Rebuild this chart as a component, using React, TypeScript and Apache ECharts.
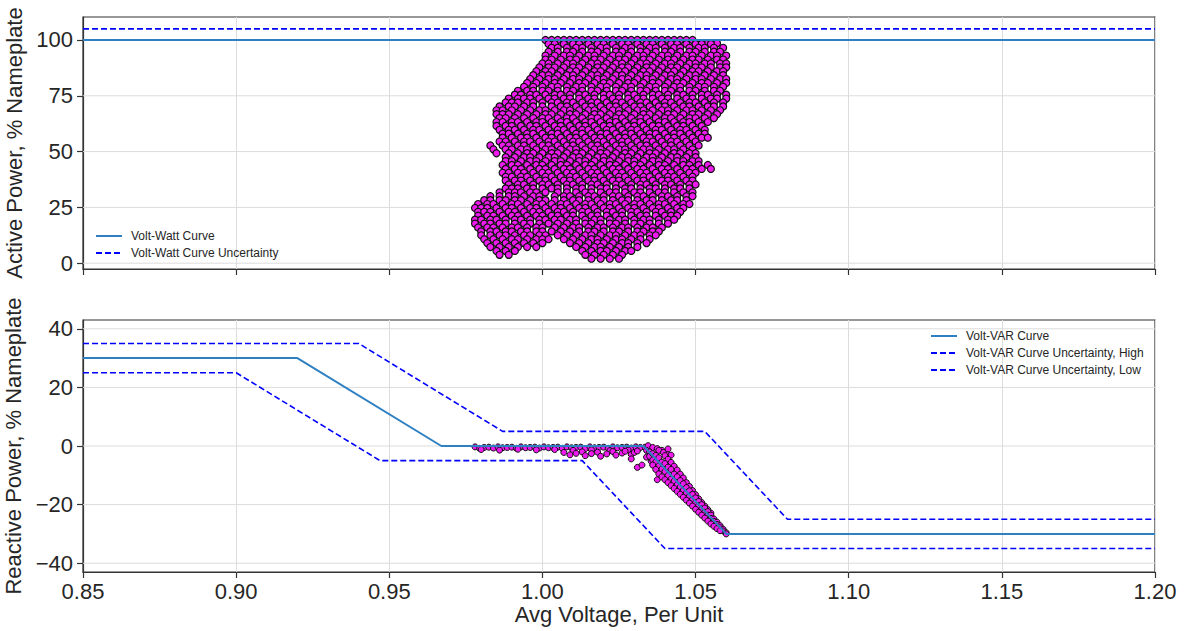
import React, { useEffect, useRef } from "react";
import * as echarts from "echarts";

// Volt-Watt setpoints (per unit voltage, % nameplate active power)
const voltWattV = [0.85, 1.2];
const voltWattP = [100, 100];
const voltWattUncP = [105, 105];

// Volt-VAR curve and its uncertainty band (per unit voltage, % nameplate reactive power)
const voltVarV = [0.85, 0.92, 0.967, 1.033, 1.06, 1.2];
const voltVarQ = [30, 30, 0, 0, -30, -30];
const voltVarHighV = [0.85, 0.94, 0.987, 1.053, 1.08, 1.2];
const voltVarHighQ = [35, 35, 5, 5, -25, -25];
const voltVarLowV = [0.85, 0.9, 0.947, 1.013, 1.04, 1.2];
const voltVarLowQ = [25, 25, -5, -5, -35, -35];

const voltRange = [0.85, 1.2];
const activeTicks = [0, 25, 50, 75, 100];
const reactiveTicks = [-40, -20, 0, 20, 40];

// Measured active power: each row is [% nameplate, voltages in milli-per-unit]
const activeRows: [number, string][] = [
  [100, "1001 1003 1005 1007 1009 1011 1013 1015 1017 1019 1021 1023 1025 1027 1029 1031 1033 1035 1037 1039 1041 1043 1045 1047 1049"],
  [98.5, "1051 1054 1057"],
  [98.25, "1002 1004 1007 1010 1012 1015 1018 1020 1023 1026 1028 1031 1034 1036 1039 1042 1044 1047 1050 1052 1055"],
  [96.5, "1003 1005 1008 1011 1013 1016 1019 1021 1024 1027 1029 1032 1035 1037 1040 1043 1045 1048 1051 1053 1056 1059"],
  [94.75, "1002 1005 1008 1010 1013 1016 1018 1021 1024 1026 1029 1032 1034 1037 1040 1042 1045 1048 1050 1053 1056 1058"],
  [93, "1001 1004 1007 1009 1012 1015 1017 1020 1023 1025 1028 1031 1033 1036 1039 1041 1044 1047 1049 1052 1055 1057 1060"],
  [91.25, "1001 1003 1006 1009 1011 1014 1017 1019 1022 1025 1027 1030 1033 1035 1038 1041 1043 1046 1049 1051 1054 1057 1059"],
  [89.5, "1000 1002 1005 1008 1010 1013 1016 1018 1021 1024 1026 1029 1032 1034 1037 1040 1042 1045 1048 1050 1053 1055 1058 1060"],
  [87.75, "999 1002 1004 1007 1010 1012 1015 1018 1020 1023 1026 1028 1031 1034 1036 1039 1042 1044 1047 1050 1052 1055 1058 1060"],
  [86, "998 1001 1003 1006 1009 1011 1014 1017 1019 1022 1025 1027 1030 1033 1035 1038 1041 1043 1046 1049 1051 1054 1057 1059"],
  [84.25, "997 1000 1002 1005 1008 1010 1013 1016 1018 1021 1024 1026 1029 1032 1034 1037 1040 1042 1045 1048 1050 1053 1056 1059"],
  [82.5, "996 999 1002 1004 1007 1010 1012 1015 1018 1020 1023 1026 1028 1031 1034 1036 1039 1042 1044 1047 1050 1052 1055 1058 1060"],
  [80.75, "995 998 1001 1004 1006 1009 1012 1014 1017 1020 1022 1025 1028 1030 1033 1036 1038 1041 1044 1046 1049 1052 1054 1057 1060"],
  [79, "994 997 1000 1003 1005 1008 1011 1013 1016 1019 1021 1024 1027 1029 1032 1035 1037 1040 1043 1045 1048 1051 1053 1056 1059"],
  [77.25, "992 995 997 1000 1002 1005 1008 1010 1013 1016 1018 1021 1024 1026 1029 1032 1034 1037 1040 1042 1045 1048 1050 1053 1056 1058"],
  [75.5, "991 993 996 998 1001 1004 1006 1009 1012 1014 1017 1020 1022 1025 1028 1030 1033 1036 1038 1041 1044 1046 1049 1052 1054 1057 1060"],
  [73.75, "989 992 994 996 999 1002 1004 1007 1009 1012 1015 1017 1020 1023 1025 1028 1031 1033 1036 1039 1041 1044 1047 1049 1052 1055 1057 1060"],
  [72, "988 990 992 995 997 1000 1003 1005 1008 1010 1013 1016 1018 1021 1024 1026 1029 1032 1034 1037 1040 1042 1045 1048 1050 1053 1056 1059"],
  [70.25, "986 989 991 994 997 1000 1003 1006 1008 1011 1014 1016 1019 1022 1024 1027 1030 1032 1035 1038 1040 1043 1046 1048 1051 1054 1056 1059"],
  [68.5, "985 987 990 993 996 999 1001 1004 1007 1009 1012 1015 1017 1020 1023 1025 1028 1031 1033 1036 1039 1041 1044 1047 1049 1052 1055 1058"],
  [66.75, "985 987 989 992 995 998 1001 1003 1006 1009 1011 1014 1017 1019 1022 1025 1027 1030 1033 1035 1038 1041 1043 1046 1049 1051 1054 1057"],
  [65, "986 988 991 994 997 1000 1002 1005 1008 1010 1013 1016 1018 1021 1024 1026 1029 1032 1034 1037 1040 1042 1045 1048 1050 1053 1056"],
  [63.25, "985 987 990 992 995 998 1000 1003 1006 1008 1011 1014 1016 1019 1022 1024 1027 1030 1032 1035 1038 1040 1043 1046 1048 1051 1054"],
  [61.5, "985 988 990 993 996 998 1001 1004 1006 1009 1012 1014 1017 1020 1022 1025 1028 1030 1033 1036 1038 1041 1044 1046 1049 1052"],
  [59.75, "986 989 991 994 997 999 1002 1005 1007 1010 1013 1015 1018 1021 1023 1026 1029 1031 1034 1037 1039 1042 1045 1047 1050 1053"],
  [58, "987 989 992 995 997 1000 1003 1005 1008 1011 1013 1016 1019 1021 1024 1027 1029 1032 1035 1037 1040 1043 1045 1048 1051 1053"],
  [56.25, "987 990 993 995 998 1001 1003 1006 1009 1011 1014 1017 1019 1022 1025 1027 1030 1033 1035 1038 1041 1043 1046 1049 1052 1054"],
  [54.5, "986 988 991 994 996 999 1002 1004 1007 1010 1012 1015 1018 1020 1023 1026 1028 1031 1034 1036 1039 1042 1044 1047 1050"],
  [52.75, "983 987 989 992 994 997 1000 1002 1005 1008 1010 1013 1016 1018 1021 1024 1026 1029 1032 1034 1037 1040 1042 1045 1048 1051"],
  [51, "984 988 990 993 995 998 1001 1003 1006 1009 1011 1014 1017 1019 1022 1025 1027 1030 1033 1035 1038 1041 1043 1046 1049"],
  [49.25, "985 989 992 995 997 1000 1003 1005 1008 1011 1013 1016 1019 1021 1024 1027 1029 1032 1035 1037 1040 1043 1045 1048 1050"],
  [47.5, "988 991 994 996 999 1002 1004 1007 1010 1012 1015 1018 1020 1023 1026 1028 1031 1034 1036 1039 1042 1044 1047 1050"],
  [45.75, "988 990 993 996 998 1001 1004 1006 1009 1012 1014 1017 1020 1022 1025 1028 1030 1033 1036 1038 1041 1044 1046 1049 1051"],
  [44, "987 990 992 995 998 1000 1003 1006 1008 1011 1014 1016 1019 1022 1024 1027 1030 1032 1035 1038 1040 1043 1046 1048 1051 1054"],
  [42.25, "988 991 993 996 999 1001 1004 1007 1009 1012 1015 1017 1020 1023 1025 1028 1031 1033 1036 1039 1041 1044 1047 1049 1052 1055"],
  [40.5, "987 989 992 994 997 1000 1002 1005 1008 1010 1013 1016 1018 1021 1024 1026 1029 1032 1034 1037 1040 1042 1045 1048 1050"],
  [38.75, "988 990 993 995 998 1001 1003 1006 1009 1011 1014 1017 1019 1022 1025 1027 1030 1033 1035 1038 1041 1043 1046 1049"],
  [37, "988 991 993 996 999 1001 1004 1007 1009 1012 1015 1017 1020 1023 1025 1028 1031 1033 1036 1039 1041 1044 1047 1049"],
  [35.25, "989 992 994 997 1000 1002 1005 1008 1010 1013 1016 1018 1021 1024 1026 1029 1032 1034 1037 1040 1042 1045 1048 1050"],
  [33.5, "988 990 992 995 997 1000 1003 1005 1008 1011 1013 1016 1019 1021 1024 1027 1029 1032 1035 1037 1040 1043 1045 1048"],
  [31.75, "986 989 991 993 996 998 1001 1005 1008 1011 1014 1016 1019 1022 1024 1027 1030 1032 1035 1038 1040 1043 1046 1049"],
  [30, "983 986 989 991 994 997 999 1004 1007 1009 1012 1015 1017 1020 1023 1025 1028 1031 1033 1036 1039 1041 1044 1047 1049"],
  [28.25, "981 983 986 988 991 993 996 999 1001 1004 1007 1010 1012 1015 1018 1020 1023 1026 1028 1031 1034 1036 1039 1042 1044 1047"],
  [26.5, "979 982 984 987 990 992 995 998 1000 1003 1006 1008 1011 1014 1016 1019 1022 1024 1027 1030 1032 1035 1038 1040 1043 1046 1048"],
  [24.75, "978 980 982 985 988 990 993 996 998 1001 1004 1006 1009 1012 1014 1017 1020 1022 1025 1028 1030 1033 1036 1038 1041 1044 1046"],
  [23, "979 981 983 986 989 991 994 997 999 1002 1005 1007 1010 1013 1015 1018 1021 1023 1026 1029 1031 1034 1037 1039 1042 1045"],
  [21.25, "979 982 984 987 990 992 995 998 1000 1003 1005 1008 1010 1013 1016 1018 1021 1024 1026 1029 1032 1034 1037 1040 1042 1044"],
  [19.5, "978 980 983 985 988 991 993 996 999 1001 1004 1006 1009 1011 1014 1017 1019 1022 1025 1027 1030 1033 1035 1038 1041 1043"],
  [17.75, "978 981 983 986 988 991 994 996 999 1002 1005 1008 1011 1014 1016 1019 1022 1024 1027 1030 1032 1035 1038 1041"],
  [16, "979 982 984 987 990 992 995 998 1000 1004 1007 1010 1012 1015 1018 1020 1023 1026 1028 1031 1034 1036 1039"],
  [14.25, "980 983 985 988 990 993 995 998 1000 1003 1006 1009 1012 1015 1017 1020 1023 1025 1028 1031 1033 1036 1038"],
  [12.5, "980 983 986 988 991 994 996 999 1001 1005 1008 1011 1014 1016 1019 1022 1024 1027 1030 1032 1035 1037"],
  [10.75, "981 984 987 990 992 995 998 1000 1002 1007 1010 1013 1016 1018 1021 1024 1026 1029 1032 1035"],
  [9, "982 985 988 991 994 997 1000 1009 1012 1015 1018 1020 1023 1026 1028 1031 1034"],
  [7.25, "983 986 989 992 995 998 1011 1014 1017 1019 1022 1025 1028 1031"],
  [5.5, "985 988 991 1013 1016 1019 1021 1024 1027 1029"],
  [3.75, "986 989 1014 1017 1020 1023 1026"],
  [2, "1016 1019 1022 1025"],
];

// Measured reactive power: [voltage in milli-per-unit, % nameplate]
const reactivePoints: [number, number][] = [
  [978, -0.3], [979.5, -0.8], [981, -0.5], [982.5, -0.4], [984, -0.7], [985.5, -0.3], [987, -0.6], [988.5, -0.5],
  [990, -0.4], [991.5, -0.8], [993, -0.3], [994.5, -0.6], [996, -0.5], [997.5, -0.4], [999, -0.7], [1000.5, -0.3],
  [1002, -0.6], [1003.5, -0.5], [1005, -0.4], [1006.5, -0.8], [1008, -0.3], [1009.5, -0.6], [1011, -0.5], [1012.5, -0.4],
  [1014, -0.9], [1015.5, -0.3], [1017, -0.6], [1018.5, -0.5], [1020, -0.4], [1021.5, -0.8], [1023, -0.3], [1024.5, -0.6],
  [1026, -0.5], [1027.5, -0.4], [1029, -0.7], [1030.5, -0.3], [1032, -0.5], [1033.5, -0.4],
  [980, -1.2], [986, -1.4], [992, -1.1], [998, -1.3], [1004, -1.2], [1010, -1.5], [1016, -1.3], [1022, -1.6], [1028, -1.4],
  [1007, -2.2], [1009, -3.0], [1011, -2.5], [1013, -2.0], [1014, -3.3], [1016, -2.6], [1018, -2.1], [1019, -3.5],
  [1021, -2.7], [1023, -1.9], [1024, -3.1], [1026, -2.4], [1027, -1.8], [1029, -2.9], [1030, -2.2], [1031, -1.7],
  [1029, -4.4], [1031, -7.3], [1032.5, -6.5], [1034, -3.8], [1035.5, -5.2], [1037.5, -11.5],
  [1034.5, 0.1], [1036, -0.5], [1037.5, -0.9], [1039, -1.5], [1040.5, -2.6], [1042, -3.1], [1041, -1.0],
  [1038, -1.5], [1039.5, -2.2], [1040, -3.3], [1041, -4.5], [1042, -5.6], [1043, -6.9], [1044, -8.2], [1045, -9.6],
  [1046, -10.9], [1047, -12.5], [1048, -13.8], [1049, -15.2], [1050, -16.6], [1051, -18.0], [1052, -19.3],
  [1053, -20.5], [1054, -21.7], [1055, -22.9],
  [1034, -1.5], [1035, -2.0], [1035, -3.5], [1036, -2.6], [1036, -4.8], [1037, -3.2], [1037, -5.5], [1038, -4.0],
  [1038, -6.8], [1039, -5.5], [1039, -7.9], [1040, -6.0], [1040, -8.7], [1041, -7.2], [1041, -10.1], [1042, -8.0],
  [1042, -11.3], [1043, -9.6], [1043, -12.0], [1044, -10.5], [1044, -13.2], [1045, -11.8], [1045, -14.0], [1046, -12.9],
  [1046, -15.1], [1047, -14.2], [1047, -16.0], [1048, -15.3], [1048, -17.1], [1049, -16.5], [1049, -18.2], [1050, -17.7],
  [1050, -19.3], [1051, -18.9], [1051, -20.3], [1052, -20.0], [1052, -21.5], [1053, -21.2], [1053, -22.6], [1054, -22.4],
  [1054, -23.6], [1055, -23.6], [1055, -24.7], [1056, -24.9], [1056, -25.7], [1057, -26.0], [1057, -26.8], [1058, -27.2],
  [1058, -27.9], [1059, -28.4], [1059, -29.0], [1060, -29.6], [1060, -30.0],
  [1036, -6.5], [1037, -8], [1038, -9.5], [1039, -10.5], [1040, -11.5], [1041, -12.5], [1042, -13.5], [1043, -14.5],
  [1044, -15.5], [1045, -16.5], [1046, -17.5], [1047, -18.5], [1048, -19.5], [1049, -20.5], [1050, -21.6], [1051, -22.6],
  [1052, -23.6], [1053, -24.6], [1054, -25.6], [1055, -26.6], [1056, -27.4], [1057, -28.2], [1058, -28.9],
];

const FONT = "'Liberation Sans', Arial, Helvetica, sans-serif";
const TEXT = "#262626";
const SPINE = "#333333";
const GRIDLINE = "#dcdcdc";
const CURVE_BLUE = "#2f80c2";
const DASH_BLUE = "#0000ff";
const MARKER_FILL = "#ee1aee";
const MARKER_EDGE = "#101010";

const pair = (xs: number[], ys: number[]) => xs.map((x, i) => [x, ys[i]]);
const minus = (v: number) => String(v).replace("-", "\u2212");

function buildOption() {
  const activePoints = activeRows.flatMap(([p, xs]) =>
    xs.split(" ").map((v) => [Number(v) / 1000, p])
  );
  const reactiveData = reactivePoints.map(([v, q]) => [v / 1000, q]);

  const xAxis = (gridIndex: number, labelled: boolean) => ({
    type: "value",
    gridIndex,
    min: voltRange[0],
    max: voltRange[1],
    interval: 0.05,
    axisLine: { show: true, onZero: false, lineStyle: { color: SPINE, width: 1.2 } },
    axisTick: { show: true, inside: false, length: 6, lineStyle: { color: SPINE, width: 1.2 } },
    axisLabel: {
      show: labelled,
      fontSize: 22,
      color: TEXT,
      fontFamily: FONT,
      margin: 8,
      formatter: (v: number) => v.toFixed(2),
    },
    splitLine: { show: true, lineStyle: { color: GRIDLINE, width: 1 } },
    name: labelled ? "Avg Voltage, Per Unit" : "",
    nameLocation: "middle",
    nameGap: 31,
    nameTextStyle: { fontSize: 22, color: TEXT, fontFamily: FONT },
  });

  const yAxis = (gridIndex: number, min: number, max: number, ticks: number[], name: string) => ({
    type: "value",
    gridIndex,
    min,
    max,
    axisLine: { show: true, onZero: false, lineStyle: { color: SPINE, width: 1.2 } },
    axisTick: { show: true, inside: false, length: 6, customValues: ticks, lineStyle: { color: SPINE, width: 1.2 } },
    axisLabel: {
      customValues: ticks,
      fontSize: 22,
      color: TEXT,
      fontFamily: FONT,
      margin: 10,
      formatter: (v: number) => minus(v),
    },
    splitLine: { show: false },
    name,
    nameLocation: "middle",
    nameGap: 40,
    nameTextStyle: { fontSize: 22, color: TEXT, fontFamily: FONT },
  });

  // horizontal grid lines at each labelled tick, kept beneath the data
  const gridLines = (idx: number, ticks: number[]) =>
    ticks.map((t) => ({
      type: "line",
      name: `grid-${idx}-${t}`,
      xAxisIndex: idx,
      yAxisIndex: idx,
      data: [[voltRange[0], t], [voltRange[1], t]],
      symbol: "none",
      showSymbol: false,
      silent: true,
      z: 1,
      lineStyle: { color: GRIDLINE, width: 1 },
    }));

  const curve = (name: string, idx: number, data: number[][], color: string, dashed: boolean) => ({
    type: "line",
    name,
    xAxisIndex: idx,
    yAxisIndex: idx,
    data,
    symbol: "none",
    showSymbol: false,
    silent: true,
    z: 4,
    lineStyle: dashed ? { color, width: 1.6, type: [6, 3] } : { color, width: 2 },
    itemStyle: { color },
  });

  const legendBase = {
    orient: "vertical",
    padding: 0,
    itemWidth: 26,
    itemHeight: 12,
    itemGap: 5,
    selectedMode: false,
    itemStyle: { color: "rgba(0,0,0,0)", borderColor: "rgba(0,0,0,0)", borderWidth: 0 },
    textStyle: { fontSize: 12, color: TEXT, fontFamily: FONT, padding: [0, 0, 0, 4] },
  };

  return {
    animation: false,
    backgroundColor: "#ffffff",
    textStyle: { fontFamily: FONT },
    grid: [
      { left: 83, top: 17, width: 1072, height: 252, show: true, borderColor: SPINE, borderWidth: 1.2, outerBoundsMode: "none" },
      { left: 83, top: 320, width: 1072, height: 252, show: true, borderColor: SPINE, borderWidth: 1.2, outerBoundsMode: "none" },
    ],
    xAxis: [xAxis(0, false), xAxis(1, true)],
    yAxis: [
      yAxis(0, -2.6, 110.3, activeTicks, "Active Power, % Nameplate"),
      yAxis(1, -43, 43, reactiveTicks, "Reactive Power, % Nameplate"),
    ],
    legend: [
      {
        ...legendBase,
        left: 95,
        top: 230,
        data: ["Volt-Watt Curve", "Volt-Watt Curve Uncertainty"],
      },
      {
        ...legendBase,
        left: 930,
        top: 330,
        data: ["Volt-VAR Curve", "Volt-VAR Curve Uncertainty, High", "Volt-VAR Curve Uncertainty, Low"],
      },
    ],
    series: [
      ...gridLines(0, activeTicks),
      ...gridLines(1, reactiveTicks),
      {
        type: "scatter",
        name: "Active Power",
        xAxisIndex: 0,
        yAxisIndex: 0,
        data: activePoints,
        symbolSize: 7,
        silent: true,
        z: 2,
        itemStyle: { color: MARKER_FILL, borderColor: MARKER_EDGE, borderWidth: 1.2, opacity: 1 },
      },
      {
        type: "scatter",
        name: "Reactive Power",
        xAxisIndex: 1,
        yAxisIndex: 1,
        data: reactiveData,
        symbolSize: 6,
        silent: true,
        z: 2,
        itemStyle: { color: MARKER_FILL, borderColor: MARKER_EDGE, borderWidth: 1, opacity: 1 },
      },
      curve("Volt-Watt Curve", 0, pair(voltWattV, voltWattP), CURVE_BLUE, false),
      curve("Volt-Watt Curve Uncertainty", 0, pair(voltWattV, voltWattUncP), DASH_BLUE, true),
      curve("Volt-VAR Curve", 1, pair(voltVarV, voltVarQ), CURVE_BLUE, false),
      curve("Volt-VAR Curve Uncertainty, High", 1, pair(voltVarHighV, voltVarHighQ), DASH_BLUE, true),
      curve("Volt-VAR Curve Uncertainty, Low", 1, pair(voltVarLowV, voltVarLowQ), DASH_BLUE, true),
    ],
  };
}

export default function App() {
  const ref = useRef<HTMLDivElement>(null);
  useEffect(() => {
    if (!ref.current) return;
    const chart = echarts.init(ref.current, undefined, { renderer: "svg" });
    chart.setOption(buildOption() as any);
    return () => chart.dispose();
  }, []);
  return (
    <div
      ref={ref}
      style={{ position: "absolute", left: 0, top: 0, width: 1189, height: 631, background: "#fff" }}
    />
  );
}
